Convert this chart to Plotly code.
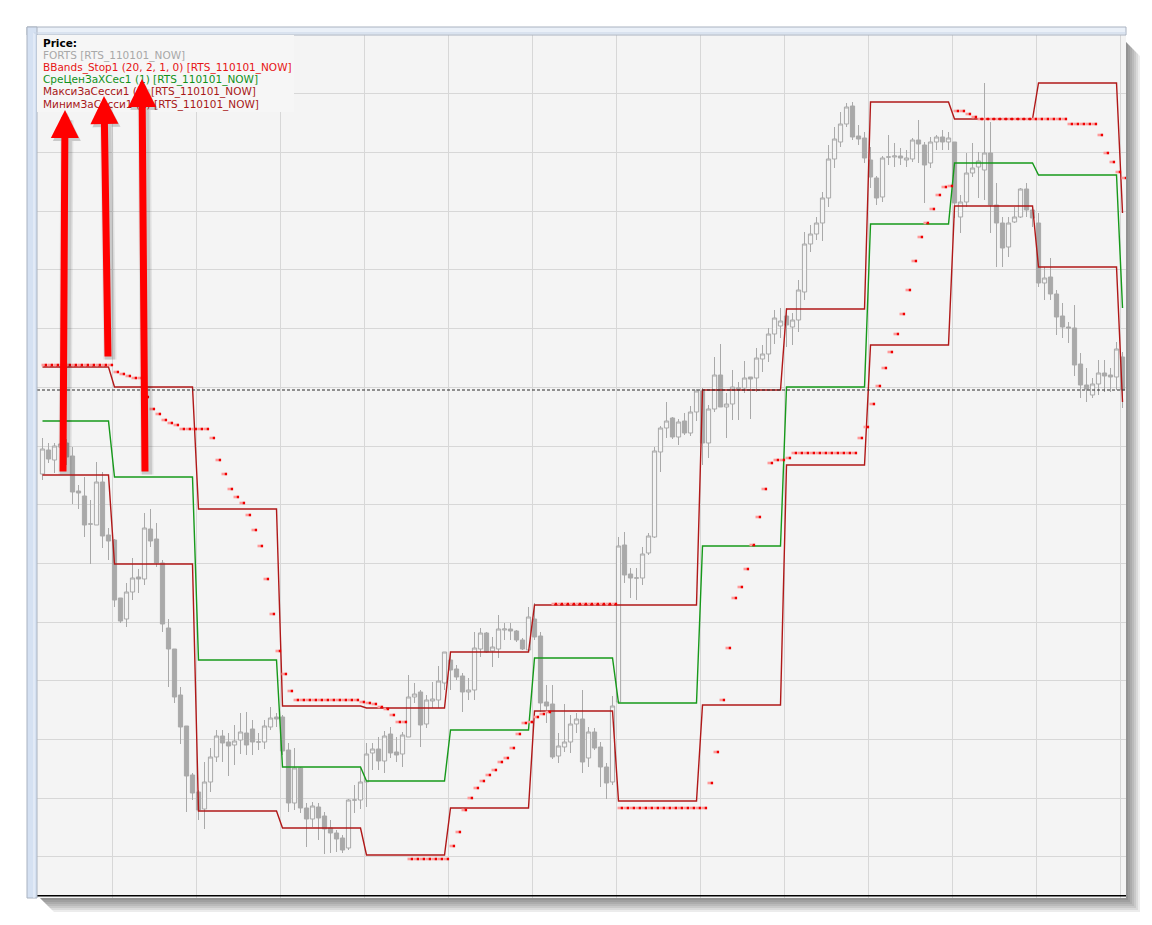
import plotly.graph_objects as go

# candle number inside the visible window (15-minute bars, 14 bars per session)
bars = list(range(181))

opens = [426, 450, 440, 453, 457, 444, 409, 404, 376, 375,
         418, 365, 360, 302, 281, 308, 323, 321, 371, 361,
         337, 272, 251, 205, 174, 125, 108, 91, 118, 143,
         164, 158, 155, 160, 167, 171, 158, 158, 173, 183,
         183, 150, 97, 132, 92, 81, 93, 84, 72, 67,
         62, 52, 100, 100, 118, 147, 151, 139, 166, 148,
         146, 163, 203, 208, 176, 199, 200, 217, 240, 231,
         224, 208, 210, 251, 267, 249, 251, 270, 271, 269,
         260, 250, 281, 264, 198, 196, 144, 153, 158, 176,
         181, 142, 168, 153, 133, 118, 198, 355, 326, 322,
         322, 347, 363, 448, 472, 482, 463, 479, 467, 488,
         509, 457, 491, 525, 493, 496, 511, 512, 523, 522,
         541, 546, 566, 574, 584, 573, 580, 608, 656, 666,
         677, 702, 741, 758, 776, 794, 764, 762, 740, 722,
         703, 743, 743, 744, 740, 741, 760, 755, 737, 758,
         763, 758, 758, 683, 698, 727, 733, 730, 747, 695,
         677, 653, 678, 683, 711, 690, 677, 617, 623, 606,
         584, 573, 572, 536, 515, 505, 516, 527, 525, 523,
         543]
highs = [462, 457, 457, 462, 461, 453, 415, 423, 400, 438,
         428, 372, 361, 302, 317, 342, 331, 387, 391, 377,
         340, 281, 251, 213, 174, 127, 110, 138, 152, 170,
         170, 167, 175, 187, 188, 180, 167, 180, 193, 187,
         185, 157, 152, 133, 97, 98, 97, 88, 80, 70,
         65, 101, 115, 132, 157, 157, 163, 169, 173, 163,
         168, 225, 217, 210, 205, 218, 234, 248, 248, 235,
         227, 222, 268, 272, 268, 263, 285, 277, 277, 270,
         262, 293, 297, 268, 215, 215, 167, 196, 185, 187,
         210, 173, 172, 158, 137, 204, 363, 368, 332, 332,
         353, 367, 453, 474, 498, 483, 481, 487, 494, 511,
         512, 495, 543, 556, 507, 530, 518, 539, 523, 552,
         555, 572, 590, 592, 592, 587, 620, 668, 675, 683,
         708, 755, 773, 788, 797, 798, 775, 768, 753, 724,
         744, 765, 757, 752, 750, 762, 780, 758, 763, 765,
         770, 768, 758, 705, 747, 757, 748, 817, 778, 717,
         683, 683, 693, 712, 717, 693, 687, 633, 642, 610,
         597, 578, 595, 547, 532, 522, 540, 540, 532, 558,
         548]
lows = [420, 437, 427, 447, 435, 396, 391, 363, 336, 375,
        352, 340, 293, 277, 273, 300, 307, 315, 353, 333,
        268, 213, 197, 156, 88, 100, 80, 71, 108, 138,
        138, 124, 135, 146, 145, 145, 150, 151, 170, 173,
        145, 88, 90, 87, 53, 73, 60, 46, 47, 48,
        47, 50, 87, 91, 93, 130, 130, 127, 142, 138,
        133, 163, 197, 153, 172, 192, 192, 210, 210, 220,
        188, 200, 200, 243, 247, 233, 242, 260, 260, 258,
        250, 248, 260, 188, 177, 141, 137, 148, 147, 167,
        127, 133, 150, 113, 101, 115, 197, 317, 302, 300,
        315, 345, 362, 428, 462, 461, 455, 465, 464, 479,
        435, 442, 488, 493, 462, 480, 480, 507, 481, 508,
        528, 538, 556, 562, 553, 555, 568, 600, 648, 660,
        659, 693, 732, 753, 773, 760, 755, 737, 712, 695,
        698, 735, 733, 735, 733, 738, 737, 697, 732, 750,
        750, 750, 682, 667, 693, 723, 702, 700, 667, 633,
        633, 643, 677, 682, 683, 673, 613, 600, 600, 565,
        562, 557, 524, 502, 498, 502, 505, 508, 508, 510,
        492]
closes = [451, 441, 454, 456, 443, 408, 407, 375, 376, 418,
          364, 359, 300, 279, 308, 322, 321, 372, 359, 337,
          276, 251, 203, 173, 124, 107, 90, 118, 143, 164,
          157, 154, 159, 168, 155, 158, 158, 174, 182, 181,
          149, 97, 132, 92, 81, 94, 82, 71, 67, 61,
          50, 100, 100, 118, 146, 151, 139, 164, 147, 145,
          165, 203, 206, 175, 200, 201, 219, 248, 230, 223,
          208, 210, 252, 267, 248, 253, 271, 271, 269, 260,
          251, 283, 263, 197, 194, 143, 154, 158, 176, 181,
          138, 168, 152, 133, 117, 194, 354, 325, 322, 322,
          346, 364, 449, 472, 479, 463, 478, 467, 488, 509,
          457, 491, 525, 493, 496, 513, 512, 522, 521, 542,
          546, 566, 582, 579, 575, 580, 610, 656, 666, 677,
          702, 741, 761, 776, 793, 763, 761, 742, 723, 702,
          742, 743, 744, 742, 742, 760, 756, 735, 758, 763,
          758, 762, 697, 698, 727, 732, 739, 747, 695, 677,
          652, 677, 683, 711, 690, 682, 617, 622, 606, 583,
          573, 572, 535, 515, 511, 516, 527, 524, 523, 551,
          510]

# BBands_Stop1 trailing stop, one value per bar
bb_stop = [535, 535, 535, 535, 535, 535, 535, 535, 535, 535, 535, 535,
           528, 526, 524, 522, 522,
           503, 491, 486, 480, 477, 475, 471, 471, 471, 471, 471,
           462, 440, 426, 411, 403, 397, 385, 370, 354, 321, 286, 249, 226, 209,
           200, 200, 200, 200, 200, 200, 200, 200, 200, 200, 200,
           198, 197, 196, 193, 191, 185, 178, 178,
           41, 41, 41, 41, 41, 41, 41,
           54, 68, 90, 102, 112, 119, 125, 130, 138, 142, 152, 166, 177, 178, 183, 186, 188,
           296, 296, 296, 296, 296, 296, 296, 296, 296, 296, 296,
           92, 92, 92, 92, 92, 92, 92, 92, 92, 92, 92, 92, 92, 92, 92,
           117, 148, 200, 252, 302, 313, 331, 355, 383, 411, 437, 440, 440, 442,
           447, 447, 447, 447, 447, 447, 447, 447, 447, 447, 447,
           462, 473, 496, 514, 532, 548, 566, 586, 610, 639, 663, 677, 691, 705, 713, 714,
           789, 789, 786, 783,
           781, 781, 781, 781, 781, 781, 781, 781, 781, 781, 781, 781, 781, 781, 781,
           776, 776, 776, 776, 776,
           765, 747, 738, 728, 722]

# session levels: bars per session, previous-session max / mid / min
session_bars = [12, 14, 14, 14, 14, 14, 14, 14, 14, 14, 14, 14, 14, 1]
sess_max = [533, 513, 391, 194, 192, 248, 295, 295, 510, 591, 798, 781, 817, 687]
sess_mid = [479, 423, 240, 133, 119, 170, 242, 197, 354, 513, 676, 737, 725, 592]
sess_min = [425, 336, 89, 72, 45, 92, 189, 99, 195, 435, 555, 694, 633, 498]

last_price = 510

legend_lines = [
    ("<b>Price:</b>", "#000000"),
    ("FORTS [RTS_110101_NOW]", "#a8a8a8"),
    ("BBands_Stop1 (20, 2, 1, 0) [RTS_110101_NOW]", "#e61414"),
    ("СреЦенЗаХСес1 (1) [RTS_110101_NOW]", "#11911a"),
    ("МаксиЗаСесси1 (1) [RTS_110101_NOW]", "#a81818"),
    ("МинимЗаСесси1 (1) [RTS_110101_NOW]", "#a81818"),
]


def per_bar(levels):
    out = []
    for lvl, n in zip(levels, session_bars):
        out += [lvl] * n
    return out


# page pixel -> paper helpers for the window decoration (plot box 37..1126 x 35..898)
def fx(px):
    return (px - 37) / 1089


def fy(py):
    return (898 - py) / 863


fig = go.Figure()

fig.add_trace(go.Candlestick(
    x=bars, open=opens, high=highs, low=lows, close=closes,
    increasing=dict(line=dict(color="#a9a9a9", width=1), fillcolor="#f4f4f4"),
    decreasing=dict(line=dict(color="#a9a9a9", width=1), fillcolor="#a9a9a9"),
    whiskerwidth=0, hoverinfo="skip", showlegend=False))

for vals, col in [(sess_max, "#b01818"), (sess_min, "#b01818"), (sess_mid, "#16991a")]:
    fig.add_trace(go.Scatter(x=bars, y=per_bar(vals), mode="lines",
                             line=dict(color=col, width=1.4),
                             hoverinfo="skip", showlegend=False))

# stop dots drawn as a light + red pair
fig.add_trace(go.Scatter(x=[b + 0.05 for b in bars], y=bb_stop, mode="markers",
                         marker=dict(symbol="square", size=2.6, color="#ff9a9a", line_width=0),
                         hoverinfo="skip", showlegend=False))
fig.add_trace(go.Scatter(x=[b + 0.55 for b in bars], y=bb_stop, mode="markers",
                         marker=dict(symbol="square", size=2.6, color="#f00000", line_width=0),
                         hoverinfo="skip", showlegend=False))

shapes = []
# last price dashed line
shapes.append(dict(type="line", xref="paper", yref="y", x0=0, x1=1, y0=last_price, y1=last_price,
                   line=dict(color="#2a2a2a", width=1, dash="3px,2px")))
# bottom black axis line
shapes.append(dict(type="line", xref="paper", yref="paper", x0=0, x1=1, y0=fy(895.7), y1=fy(895.7),
                   line=dict(color="#000000", width=1.6)))
# window drop shadow (right and bottom)
for k in range(1, 8):
    w = 2 * k
    path = (f"M {fx(1126)},{fy(42)} L {fx(1126 + w)},{fy(42 + w)} L {fx(1126 + w)},{fy(898 + w)} "
            f"L {fx(40 + w)},{fy(898 + w)} L {fx(40)},{fy(898)} L {fx(1126)},{fy(898)} Z")
    shapes.append(dict(type="path", xref="paper", yref="paper", path=path,
                       fillcolor="rgba(0,0,0,0.075)", line=dict(width=0)))
# window frame: top and left borders
shapes.append(dict(type="rect", xref="paper", yref="paper", x0=fx(27), x1=fx(1126), y0=fy(35), y1=fy(27),
                   fillcolor="#eaf0f8", line=dict(color="#a9b2c0", width=1)))
shapes.append(dict(type="rect", xref="paper", yref="paper", x0=fx(27), x1=fx(37), y0=fy(898), y1=fy(27),
                   fillcolor="#d5e1f2", line=dict(color="#a9b2c0", width=1)))
shapes.append(dict(type="line", xref="paper", yref="paper", x0=fx(34), x1=fx(34), y0=fy(898), y1=fy(33),
                   line=dict(color="#eef3fb", width=1)))
shapes.append(dict(type="line", xref="paper", yref="paper", x0=fx(34), x1=fx(1126), y0=fy(33), y1=fy(33),
                   line=dict(color="#c9d5e6", width=1)))
# legend box background
shapes.append(dict(type="rect", xref="paper", yref="paper", x0=fx(37), x1=fx(294), y0=fy(112), y1=fy(35),
                   fillcolor="#f6f6f6", line=dict(width=0)))

annotations = []
for n, (txt, col) in enumerate(legend_lines):
    annotations.append(dict(xref="paper", yref="paper", x=fx(41), y=fy(43 + n * 12.2),
                            xanchor="left", yanchor="middle", showarrow=False, text=txt,
                            font=dict(family="DejaVu Sans", size=10.5, color=col)))

# red pointer arrows (blurred shadow first: two soft layers)
arrows = [((63, 473), (65, 110)), ((108, 358), (104, 96)), ((145, 473), (142, 79))]
for width, alpha in [(13, 0.07), (10, 0.10)]:
    for (tx, ty), (hx, hy) in arrows:
        annotations.append(dict(xref="paper", yref="paper", x=fx(hx + 2), y=fy(hy + 3),
                                ax=tx - hx, ay=ty - hy, text="", showarrow=True,
                                arrowhead=2, arrowsize=5.6 / width, arrowwidth=width,
                                arrowcolor=f"rgba(0,0,0,{alpha})", standoff=0))
for (tx, ty), (hx, hy) in arrows:
    annotations.append(dict(xref="paper", yref="paper", x=fx(hx), y=fy(hy),
                            ax=tx - hx, ay=ty - hy, text="", showarrow=True,
                            arrowhead=2, arrowsize=0.8, arrowwidth=7,
                            arrowcolor="#ff0000", standoff=0))

# the page body has an 8px margin, so the figure box starts at (8, 8)
fig.update_layout(
    width=1152, height=925,
    margin=dict(l=29, r=34, t=27, b=35),
    paper_bgcolor="#ffffff", plot_bgcolor="#f4f4f4",
    showlegend=False, hovermode=False,
    boxgap=0.3, boxgroupgap=0.0,
    shapes=shapes, annotations=annotations,
    xaxis=dict(range=[-0.917, 180.58], showgrid=True, gridcolor="#d7d7d7", gridwidth=1,
               tick0=11.63, dtick=14, showticklabels=False, ticks="", zeroline=False,
               showline=False, rangeslider=dict(visible=False), fixedrange=True),
    yaxis=dict(range=[2, 865], showgrid=True, gridcolor="#d7d7d7", gridwidth=1,
               tick0=454, dtick=58.7, showticklabels=False, ticks="", zeroline=False,
               showline=False, fixedrange=True),
)

fig.write_html("out.html")
